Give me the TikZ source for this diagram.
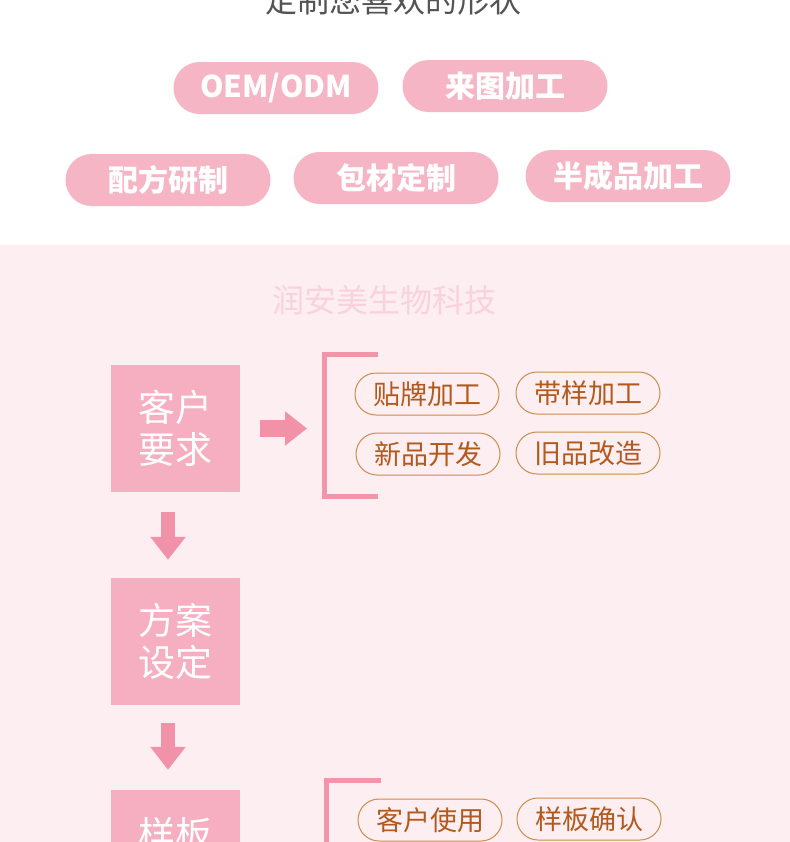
\documentclass[tikz,border=0pt]{standalone}
\usepackage{fontspec}
\setmainfont{Noto Sans CJK SC}
\usetikzlibrary{arrows.meta}
\definecolor{pagepink}{HTML}{FDEEF2}
\definecolor{tagpink}{HTML}{F6B5C4}
\definecolor{stagepink}{HTML}{F6AFC0}
\definecolor{arrowpink}{HTML}{F292A8}
\definecolor{bracketpink}{HTML}{F395AA}
\definecolor{optline}{HTML}{CC8C4A}
\definecolor{opttext}{HTML}{B25A1E}
\definecolor{markpink}{HTML}{F9D2DD}
\tikzset{
    flow/.style={
        x=1bp, y=-1bp,
        service/.style={rounded corners=26bp, fill=tagpink, text=white, minimum width=205bp,
            minimum height=52bp, inner sep=0pt, font=\fontsize{30bp}{36bp}\selectfont\bfseries},
        stage/.style={fill=stagepink, text=white, minimum width=129bp, minimum height=127bp,
            inner sep=0pt, align=center, font=\fontsize{37bp}{42bp}\selectfont},
        choice/.style={rounded corners=21bp, draw=optline, line width=1bp, text=opttext,
            minimum width=144bp, minimum height=42bp, inner sep=0pt,
            font=\fontsize{27bp}{30bp}\selectfont},
        bracket/.style={draw=bracketpink, line width=5bp},
        downarrow/.style={draw=arrowpink, line width=14bp, -{Triangle[width=34bp,length=23bp]}},
        sidearrow/.style={draw=arrowpink, line width=17bp, -{Triangle[width=33bp,length=22bp]}},
    },
}

\begin{document}
\begin{tikzpicture}[flow]
    \useasboundingbox (0,0) rectangle (790,842);
    \fill[white] (0,0) rectangle (790,245);
    \fill[pagepink] (0,245) rectangle (790,842);

    % services
    \node[text=black!67, font=\fontsize{32bp}{36bp}\selectfont] (title) at (393,0) {定制您喜欢的形状};
    \node[service] (oem)    at (276,88)  {OEM/ODM};
    \node[service] (laitu)  at (505,86)  {来图加工};
    \node[service] (peifang) at (168,180) {配方研制};
    \node[service] (baocai) at (396,178) {包材定制};
    \node[service] (banchengpin) at (628,176) {半成品加工};

    % process
    \node[text=markpink, font=\fontsize{32bp}{36bp}\selectfont] (mark) at (384,300) {润安美生物科技};
    \node[stage] (req)    at (175.5,428.5) {客户\\要求};
    \node[stage] (plan)   at (175.5,641.5) {方案\\设定};
    \node[stage] (sample) at (175.5,853.5) {样板\\\mbox{}};

    \draw[downarrow, shorten <=20bp, shorten >=18bp] ([xshift=-7.5bp]req.south) -- ([xshift=-7.5bp]plan.north);
    \draw[downarrow, shorten <=18bp, shorten >=20bp] ([xshift=-7.5bp]plan.south) -- ([xshift=-7.5bp]sample.north);

    \coordinate (br1) at (324.5,428.5);
    \draw[bracket] (378,354.5) -| (324.5,496.5) -- (378,496.5);
    \draw[sidearrow, shorten <=20bp, shorten >=17.5bp] (req.east) -- (br1);

    \node[choice] (tiepai)  at (427,394) {贴牌加工};
    \node[choice] (daiyang) at (588,393) {带样加工};
    \node[choice] (xinpin)  at (428,454) {新品开发};
    \node[choice] (jiupin)  at (588,453) {旧品改造};

    \draw[bracket] (381,780.5) -| (326,860);
    \node[choice] (shiyong) at (430,820) {客户使用};
    \node[choice] (queren)  at (589,819) {样板确认};
\end{tikzpicture}
\end{document}
